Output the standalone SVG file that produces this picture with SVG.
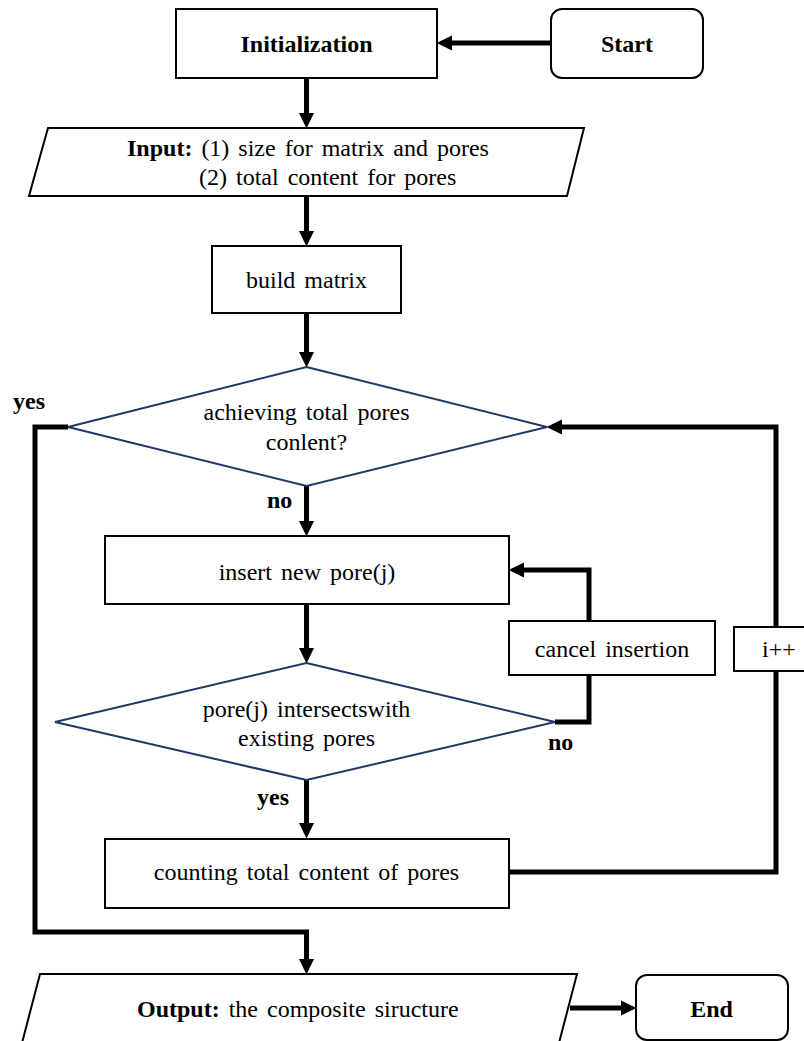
<svg xmlns="http://www.w3.org/2000/svg" width="804" height="1041" viewBox="0 0 804 1041">
<style>
.box{fill:#fff;stroke:#000;stroke-width:2}
.dia{fill:#fff;stroke:#1f3864;stroke-width:2}
.t{font-family:"Liberation Serif","Times New Roman",serif;font-size:24px;fill:#000;word-spacing:3px}
.c{text-anchor:middle}
.b{font-weight:bold}
.con{fill:none;stroke:#000;stroke-width:5;stroke-linejoin:miter}
</style>
<defs>
<marker id="ah" markerUnits="userSpaceOnUse" markerWidth="16" markerHeight="16" refX="0" refY="8" orient="auto" viewBox="0 0 16 16">
<path d="M0,0.5 L15.5,8 L0,15.5 z" fill="#000"/>
</marker>
</defs>
<rect width="804" height="1041" fill="#fff"/>
<g id="connectors">
<path class="con" d="M551,43 L452,43" marker-end="url(#ah)"/>
<path class="con" d="M306.5,78 L306.5,113" marker-end="url(#ah)"/>
<path class="con" d="M306.5,196 L306.5,231" marker-end="url(#ah)"/>
<path class="con" d="M306.5,313 L306.5,352" marker-end="url(#ah)"/>
<path class="con" d="M306.5,486 L306.5,521" marker-end="url(#ah)"/>
<path class="con" d="M306.5,604 L306.5,648" marker-end="url(#ah)"/>
<path class="con" d="M555,722 L589,722 L589,570 L524,570" marker-end="url(#ah)"/>
<path class="con" d="M306.5,780 L306.5,823" marker-end="url(#ah)"/>
<path class="con" d="M509,872 L776,872 L776,427 L562,427" marker-end="url(#ah)"/>
<path class="con" d="M68,427 L35,427 L35,932 L306.5,932 L306.5,959" marker-end="url(#ah)"/>
<path class="con" d="M570,1008 L621,1008" marker-end="url(#ah)"/>
</g>
<g id="start">
<rect class="box" x="551" y="9" width="152" height="69" rx="11"/>
<text class="t c b" x="627" y="52">Start</text>
</g>
<g id="init">
<rect class="box" x="176" y="9" width="261" height="69"/>
<text class="t c b" x="306.5" y="52">Initialization</text>
</g>
<g id="input">
<path class="box" d="M48,128 L584,128 L567,196 L29,196 z"/>
<text class="t" x="127" y="156"><tspan class="b">Input:</tspan> (1) size for matrix and pores</text>
<text class="t" x="199" y="185">(2) total content for pores</text>
</g>
<g id="build">
<rect class="box" x="212" y="246" width="189" height="67"/>
<text class="t c" x="306.5" y="288">build matrix</text>
</g>
<g id="check-total">
<path class="dia" d="M306.5,367 L547,427 L306.5,486 L68,427 z"/>
<text class="t c" x="306.5" y="420">achieving total pores</text>
<text class="t c" x="306.5" y="450">conlent?</text>
</g>
<g id="insert">
<rect class="box" x="105" y="536" width="404" height="68"/>
<text class="t c" x="307" y="580">insert new pore(j)</text>
</g>
<g id="check-intersect">
<path class="dia" d="M306.5,663 L555,722 L306.5,780 L55,722 z"/>
<text class="t c" x="306.5" y="717">pore(j) intersectswith</text>
<text class="t c" x="306.5" y="746">existing pores</text>
</g>
<g id="cancel">
<rect class="box" x="509" y="621" width="206" height="54"/>
<text class="t c" x="612" y="657">cancel insertion</text>
</g>
<g id="iplus">
<rect class="box" x="734" y="627" width="80" height="44"/>
<text class="t" x="762" y="657">i++</text>
</g>
<g id="counting">
<rect class="box" x="105" y="839" width="404" height="69"/>
<text class="t c" x="306.5" y="880">counting total content of pores</text>
</g>
<g id="output">
<path class="box" d="M40,974 L577,974 L559,1043 L22,1043 z"/>
<text class="t" x="137" y="1017"><tspan class="b">Output:</tspan> the composite siructure</text>
</g>
<g id="end">
<rect class="box" x="636" y="975" width="152" height="65" rx="11"/>
<text class="t c b" x="711.5" y="1017">End</text>
</g>
<g id="labels">
<text class="t b" x="13" y="409">yes</text>
<text class="t b" x="267" y="508">no</text>
<text class="t b" x="548" y="750">no</text>
<text class="t b" x="257" y="805">yes</text>
</g>
</svg>
